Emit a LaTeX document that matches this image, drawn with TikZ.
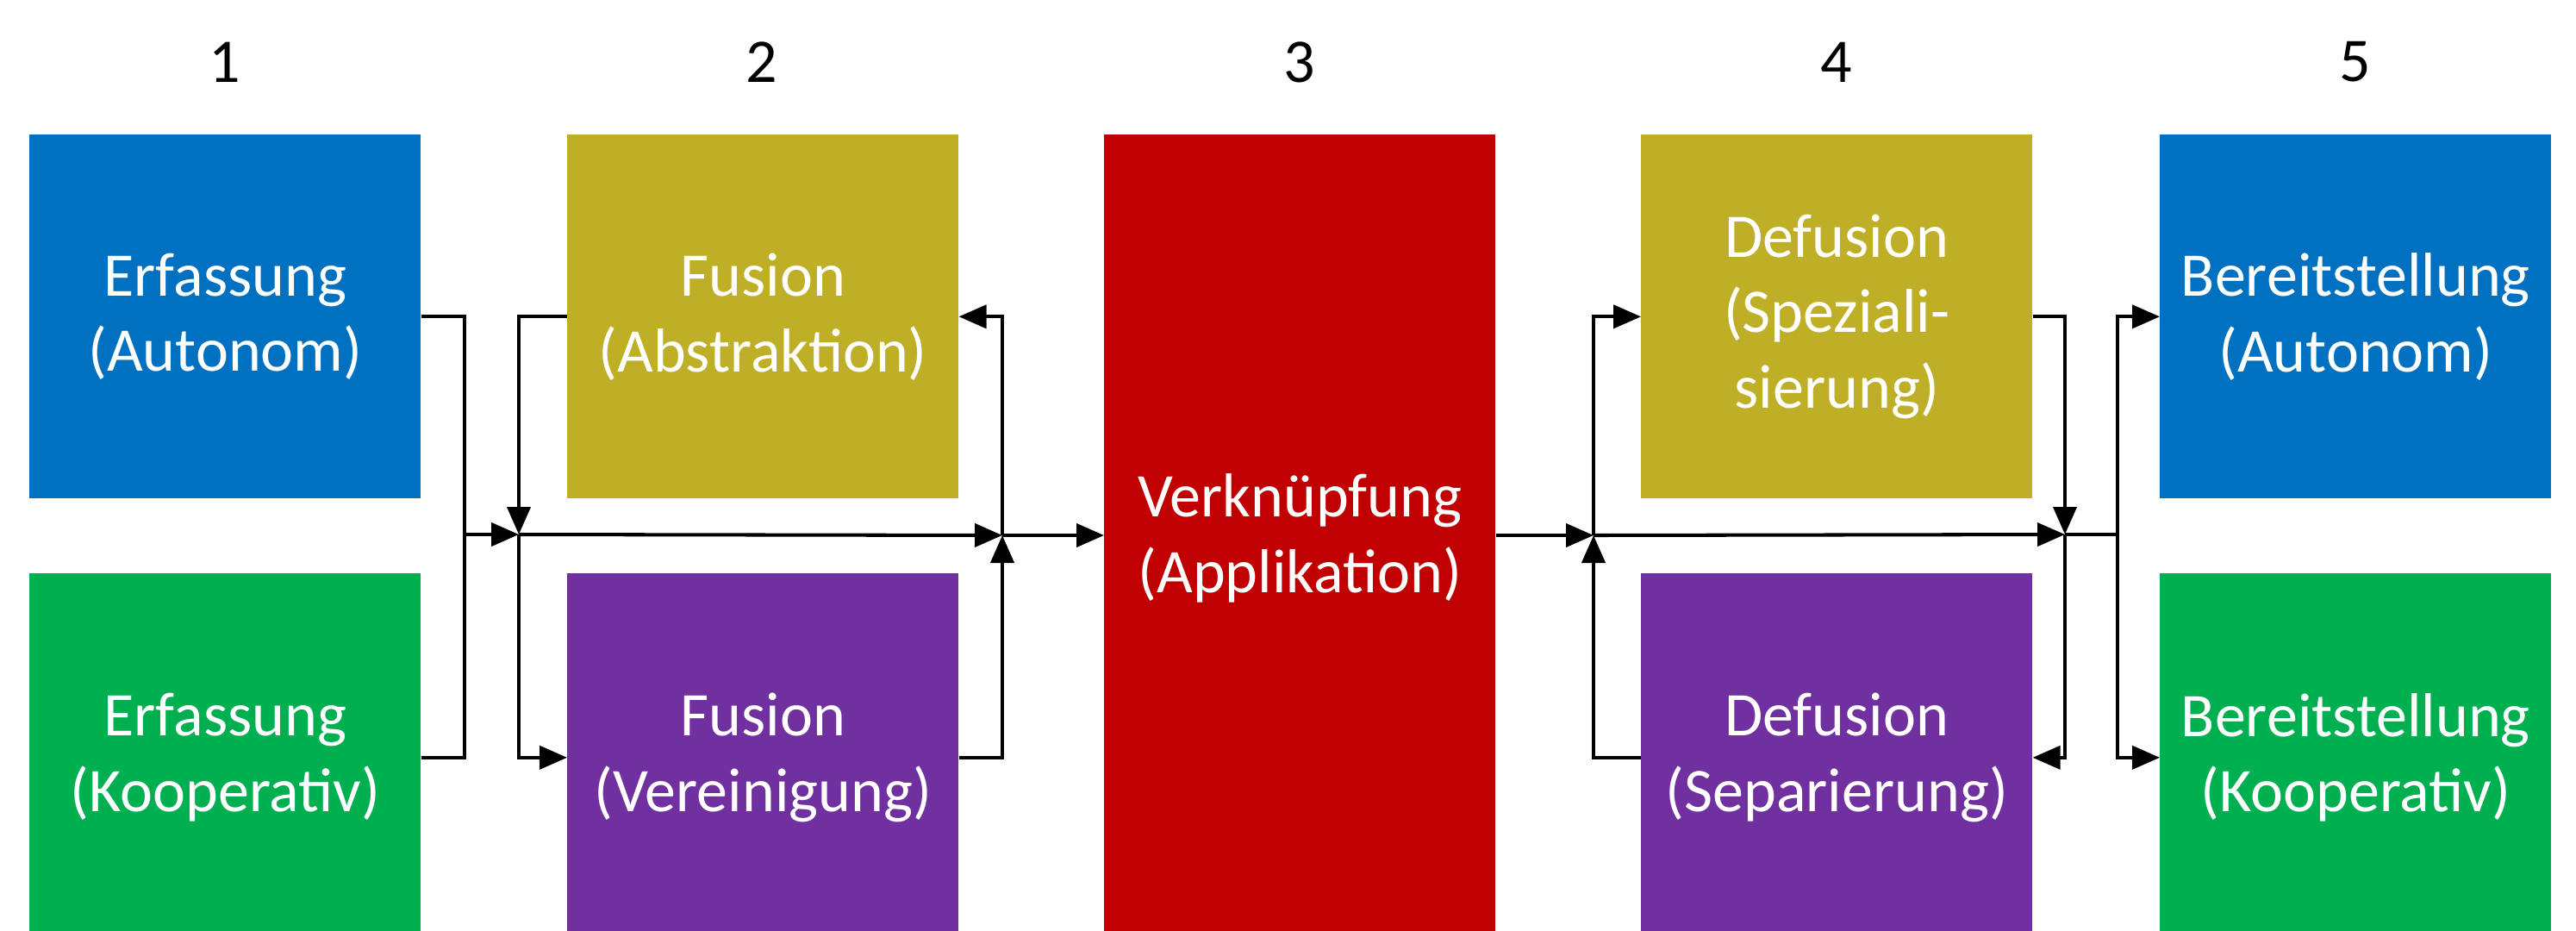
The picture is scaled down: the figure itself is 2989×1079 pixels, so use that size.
\documentclass[tikz,border=0pt]{standalone}
\usepackage{fontspec}
\setmainfont{Carlito}
\usetikzlibrary{arrows.meta}
\definecolor{cblue}{RGB}{0,112,192}
\definecolor{cgreen}{RGB}{0,176,80}
\definecolor{colive}{RGB}{191,175,39}
\definecolor{cpurple}{RGB}{112,48,160}
\definecolor{cred}{RGB}{192,0,0}
\tikzset{
  box/.style={anchor=north west, inner sep=0pt, minimum width=9.08cm, text=white, align=center, font=\fontsize{41}{50}\selectfont},
  toprow/.style={box, minimum height=8.44cm},
  botrow/.style={box, minimum height=8.54cm},
  num/.style={font=\fontsize{41}{50}\selectfont, text=black},
  conn/.style={line width=2.3pt, line join=miter},
  arr/.style={conn, -{Triangle[length=0.64cm, width=0.54cm]}}
}
\begin{document}
\begin{tikzpicture}[x=0.02cm, y=-0.02cm]
\useasboundingbox (0,0) rectangle (2989,1079);
% headers
\node[num] (n1) at (261,72) {1};
\node[num] (n2) at (884,72) {2};
\node[num] (n3) at (1508,72) {3};
\node[num] (n4) at (2131,72) {4};
\node[num] (n5) at (2733,72) {5};
% boxes
\node[toprow, fill=cblue] (e1) at (34,156) {Erfassung\\(Autonom)};
\node[botrow, fill=cgreen] (e2) at (34,665) {Erfassung\\(Kooperativ)};
\node[toprow, fill=colive] (f1) at (658,156) {Fusion\\(Abstraktion)};
\node[botrow, fill=cpurple] (f2) at (658,665) {Fusion\\(Vereinigung)};
\node[box, minimum height=18.72cm, fill=cred] (v) at (1281,156) {Verknüpfung\\(Applikation)};
\node[toprow, fill=colive] (d1) at (1904,156) {Defusion\\(Speziali-\\sierung)};
\node[botrow, fill=cpurple] (d2) at (1904,665) {Defusion\\(Separierung)};
\node[toprow, fill=cblue] (b1) at (2506,156) {Bereitstellung\\(Autonom)};
\node[botrow, fill=cgreen] (b2) at (2506,665) {Bereitstellung\\(Kooperativ)};
% junctions
\coordinate (J1) at (539,620);
\coordinate (J2) at (602,620);
\coordinate (J3) at (1163,621);
\coordinate (J4) at (1849,621);
\coordinate (J5) at (2396,620);
\coordinate (J6) at (2457,620);
% connectors
\draw[conn] (e1.east) -| (J1) |- (e2.east);
\draw[arr] (J1) -- (J2);
\draw[arr] (f1.west) -| (J2);
\draw[arr] (J2) |- (f2.west);
\draw[arr] (J2) -- (J3);
\draw[arr] (J3) |- (f1.east);
\draw[arr] (f2.east) -| (J3);
\draw[arr] (J3) -- (v.west |- J3);
\draw[arr] (v.east |- J4) -- (J4);
\draw[arr] (J4) |- (d1.west);
\draw[arr] (d2.west) -| (J4);
\draw[arr] (J4) -- (J5);
\draw[arr] (d1.east) -| (J5);
\draw[arr] (J5) |- (d2.east);
\draw[conn] (J5) -- (J6);
\draw[arr] (J6) |- (b1.west);
\draw[arr] (J6) |- (b2.west);
\end{tikzpicture}
\end{document}
